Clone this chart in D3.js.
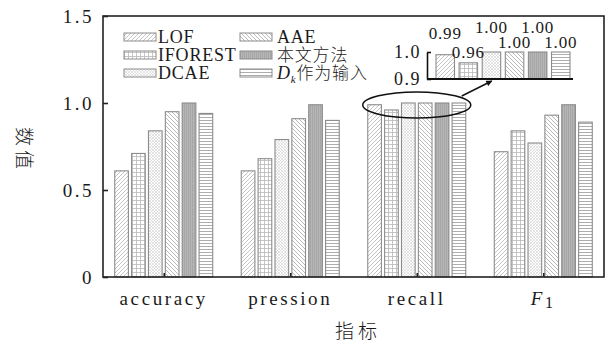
<!DOCTYPE html>
<html><head><meta charset="utf-8">
<script src="https://cdn.jsdelivr.net/npm/d3@7"></script>
<style>
body{margin:0;background:#fff}
text{font-family:"Liberation Serif","DejaVu Serif",serif;fill:#1a1a1a}
</style>
</head><body><svg id="chart" width="611" height="345"></svg>
<script>
// metrics on the x axis, one series per detection method
const metrics = ["accuracy", "pression", "recall", "F1"];
const methods = ["LOF", "IFOREST", "DCAE", "AAE", "本文方法", "Dk作为输入"];
const lofValues     = [0.61, 0.61, 0.99, 0.72];
const iforestValues = [0.71, 0.68, 0.96, 0.84];
const dcaeValues    = [0.84, 0.79, 1.00, 0.77];
const aaeValues     = [0.95, 0.91, 1.00, 0.93];
const oursValues    = [1.00, 0.99, 1.00, 0.99];
const dkValues      = [0.94, 0.90, 1.00, 0.89];
const yTicks = [0, 0.5, 1.0, 1.5];
const yTickLabels = ["0", "0.5", "1.0", "1.5"];
const insetTicks = [0.9, 1.0];
const insetTickLabels = ["0.9", "1.0"];
const insetLabelLift = [16, 5, 19, 4, 19, 4];

const series = [lofValues, iforestValues, dcaeValues, aaeValues, oursValues, dkValues];
const patternIds = ["pLof", "pIfo", "pDcae", "pAae", "pOurs", "pDk"];
const serif = '"Liberation Serif","DejaVu Serif",serif';
const cjk = '"Noto Sans CJK SC",sans-serif';

const svg = d3.select("#chart");
const defs = svg.append("defs");

function pattern(id, size, draw, bg) {
  const p = defs.append("pattern").attr("id", id).attr("patternUnits", "userSpaceOnUse")
    .attr("width", size).attr("height", size);
  p.append("rect").attr("width", size).attr("height", size).attr("fill", bg || "#fff");
  draw(p, size);
}
const ln = (p, x1, y1, x2, y2, c, w) => p.append("line").attr("x1", x1).attr("y1", y1)
  .attr("x2", x2).attr("y2", y2).attr("stroke", c).attr("stroke-width", w);

pattern("pLof", 4, (p, s) => { ln(p, 0, s, s, 0, "#b4b4b4", 0.8); ln(p, -1, 1, 1, -1, "#b4b4b4", 0.8); ln(p, s - 1, s + 1, s + 1, s - 1, "#b4b4b4", 0.8); });
pattern("pIfo", 4, (p, s) => { ln(p, 0, 0.5, s, 0.5, "#b8b8b8", 0.8); ln(p, 0.5, 0, 0.5, s, "#b8b8b8", 0.8); });
pattern("pDcae", 3, (p, s) => { ln(p, 0, s, s, 0, "#d0d0d0", 0.6); ln(p, 0, 0, s, s, "#d0d0d0", 0.6); });
pattern("pAae", 4, (p, s) => { ln(p, 0, 0, s, s, "#a8a8a8", 0.8); ln(p, -1, s - 1, 1, s + 1, "#a8a8a8", 0.8); ln(p, s - 1, -1, s + 1, 1, "#a8a8a8", 0.8); });
pattern("pOurs", 2, (p, s) => { ln(p, 0.5, 0, 0.5, s, "#a2a2a2", 0.8); }, "#b6b6b6");
pattern("pDk", 3, (p, s) => { ln(p, 0, 0.5, s, 0.5, "#a4a4a4", 0.9); });

defs.append("marker").attr("id", "arrowHead").attr("viewBox", "0 0 10 10")
  .attr("refX", 9).attr("refY", 5).attr("markerWidth", 7).attr("markerHeight", 6)
  .attr("markerUnits", "userSpaceOnUse").attr("orient", "auto")
  .append("path").attr("d", "M0,0L10,5L0,10Z").attr("fill", "#111");

// main plot area
const plotLeft = 103, plotRight = 604, plotTop = 16, plotBottom = 277;
const x0 = d3.scalePoint().domain(metrics).range([plotLeft, plotRight]).padding(0.48);
const x1 = d3.scaleBand().domain(methods).range([-49, 49]).paddingInner(0.19);
const y = d3.scaleLinear().domain([0, 1.5]).range([plotBottom, plotTop]);

const bars = svg.append("g");
series.forEach((vals, si) => {
  bars.selectAll(null).data(vals).join("rect")
    .attr("x", (d, i) => x0(metrics[i]) + x1(methods[si]))
    .attr("y", d => y(d))
    .attr("width", x1.bandwidth())
    .attr("height", d => y(0) - y(d))
    .attr("fill", `url(#${patternIds[si]})`)
    .attr("stroke", "#8c8c8c").attr("stroke-width", 1.1);
});

// frame
svg.append("rect").attr("x", plotLeft).attr("y", plotTop).attr("width", plotRight - plotLeft).attr("height", plotBottom - plotTop)
  .attr("fill", "none").attr("stroke", "#222").attr("stroke-width", 1.6);

// y axis with inward ticks
const yAxis = d3.axisLeft(y).tickValues(yTicks).tickSizeInner(-5).tickSizeOuter(0)
  .tickFormat((d, i) => yTickLabels[i]).tickPadding(9);
const gy = svg.append("g").attr("transform", `translate(${plotLeft},0)`).call(yAxis)
  .attr("font-family", serif);
gy.select(".domain").remove();
gy.selectAll(".tick line").attr("stroke", "#222").attr("stroke-width", 1.6);
gy.selectAll(".tick text").attr("font-size", 19).attr("letter-spacing", 2.5)
  .style("font-family", serif).attr("fill", "#1a1a1a");

// x axis with inward ticks
const xAxis = d3.axisBottom(x0).tickSizeInner(-4).tickSizeOuter(0).tickFormat("").tickPadding(0);
const gx = svg.append("g").attr("transform", `translate(0,${plotBottom})`).call(xAxis);
gx.select(".domain").remove();
gx.selectAll(".tick line").attr("stroke", "#222").attr("stroke-width", 1.6);

const xl = svg.append("g");
metrics.forEach(m => {
  const t = xl.append("text").attr("x", x0(m)).attr("y", 305).attr("text-anchor", "middle")
    .attr("font-size", 19).attr("letter-spacing", 2.6).style("font-family", serif);
  if (m === "F1") {
    t.append("tspan").attr("font-style", "italic").text("F");
    t.append("tspan").attr("font-size", 16).attr("dy", 3).text("1");
  } else t.text(m);
});

// axis titles
svg.append("text").attr("x", 358).attr("y", 338).attr("text-anchor", "middle")
  .style("font-family", cjk).attr("font-weight", 300)
  .attr("font-size", 19).attr("letter-spacing", 4).text("指标");
svg.append("text").attr("transform", "translate(24,150) rotate(90)")
  .style("font-family", cjk).attr("font-weight", 300)
  .attr("text-anchor", "middle").attr("dy", "0.35em").attr("font-size", 19).attr("letter-spacing", 4).text("数值");

// legend
const legendRows = [37, 55, 73];
const legendCols = [{ sw: 124, tx: 158 }, { sw: 240, tx: 277 }];
const legendOrder = [[0, 0, 0], [1, 1, 0], [2, 2, 0], [3, 0, 1], [4, 1, 1], [5, 2, 1]];
legendOrder.forEach(([si, r, c]) => {
  const col = legendCols[c], cy = legendRows[r];
  svg.append("rect").attr("x", col.sw).attr("y", cy - 4).attr("width", 32).attr("height", 8)
    .attr("fill", `url(#${patternIds[si]})`).attr("stroke", "#8c8c8c").attr("stroke-width", 1);
  const t = svg.append("text").attr("x", col.tx).attr("y", cy).attr("dy", "0.35em")
    .attr("font-size", 18).attr("letter-spacing", 0.8).style("font-family", serif);
  if (si === 5) {
    t.append("tspan").attr("font-style", "italic").text("D");
    t.append("tspan").attr("font-style", "italic").attr("font-size", 11).attr("dy", 4).text("k");
    t.append("tspan").attr("dy", -4).attr("font-size", 17).style("font-family", cjk).attr("font-weight", 300).text("作为输入");
  } else if (si === 4) {
    t.style("font-family", cjk).attr("font-weight", 300).attr("font-size", 17).text(methods[si]);
  } else t.text(methods[si]);
});

// highlight around the recall group and arrow to the zoomed inset
const rc = x0("recall");
svg.append("ellipse").attr("cx", rc).attr("cy", y(1.0) + 2).attr("rx", 54).attr("ry", 13)
  .attr("fill", "none").attr("stroke", "#111").attr("stroke-width", 1.5);
svg.append("line").attr("x1", rc + 45).attr("y1", y(1.0) - 7).attr("x2", rc + 75).attr("y2", y(1.0) - 22)
  .attr("stroke", "#111").attr("stroke-width", 1.5).attr("marker-end", "url(#arrowHead)");

// inset: recall between 0.9 and 1.0
const recall = series.map(s => s[2]);
const xi = d3.scaleBand().domain(methods).range([436, 570]).paddingInner(0.2);
const yi = d3.scaleLinear().domain([0.9, 1.0]).range([79, 52]);
const inset = svg.append("g");
inset.selectAll("rect").data(recall).join("rect")
  .attr("x", (d, i) => xi(methods[i])).attr("y", d => yi(d))
  .attr("width", xi.bandwidth()).attr("height", d => yi(0.9) - yi(d))
  .attr("fill", (d, i) => `url(#${patternIds[i]})`)
  .attr("stroke", "#8c8c8c").attr("stroke-width", 1.1);
const iAxis = d3.axisLeft(yi).tickValues(insetTicks).tickSizeInner(-4).tickSizeOuter(0)
  .tickFormat((d, i) => insetTickLabels[i]).tickPadding(6);
const gi = inset.append("g").attr("transform", "translate(427,0)").call(iAxis);
gi.select(".domain").attr("stroke", "#111").attr("stroke-width", 1.6);
gi.selectAll(".tick line").attr("stroke", "#111").attr("stroke-width", 1.6);
gi.selectAll(".tick text").attr("font-size", 18).attr("letter-spacing", 1.5)
  .style("font-family", serif).attr("fill", "#1a1a1a");
inset.append("line").attr("x1", 427).attr("x2", 573).attr("y1", yi(0.9)).attr("y2", yi(0.9))
  .attr("stroke", "#111").attr("stroke-width", 2);
inset.selectAll("text.val").data(recall).join("text").attr("class", "val")
  .attr("x", (d, i) => xi(methods[i]) + xi.bandwidth() / 2)
  .attr("y", (d, i) => yi(d) - insetLabelLift[i])
  .attr("text-anchor", "middle").attr("font-size", 17).attr("letter-spacing", 0.8)
  .style("font-family", serif)
  .text(d => d3.format(".2f")(d));
</script>
</body></html>
